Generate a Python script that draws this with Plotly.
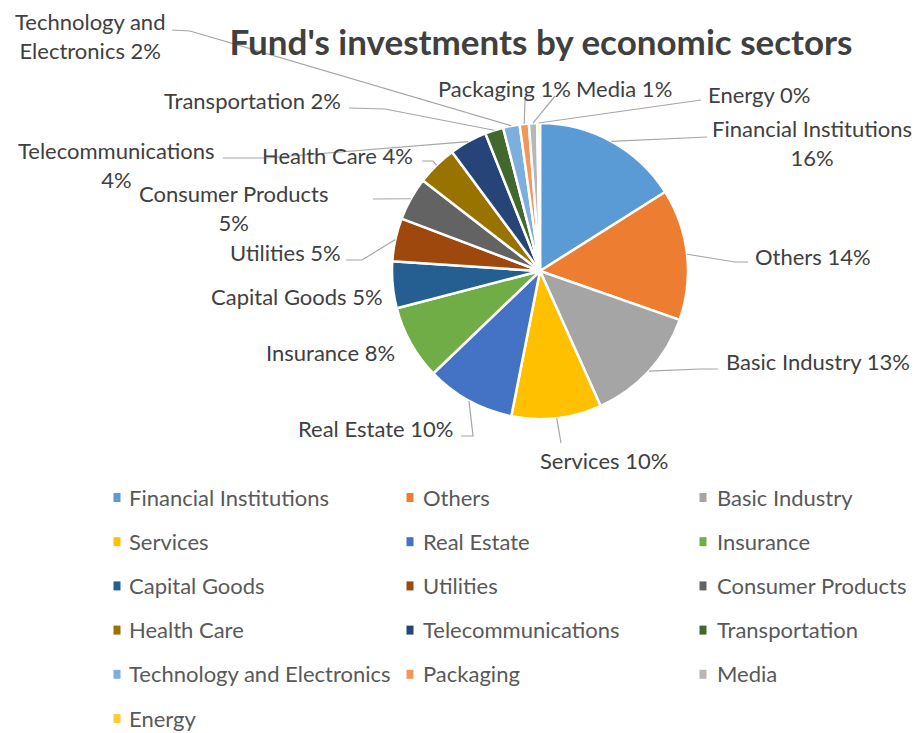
import math
import plotly.graph_objects as go

# ---- data ----
sectors = [
    "Financial Institutions", "Others", "Basic Industry", "Services",
    "Real Estate", "Insurance", "Capital Goods", "Utilities",
    "Consumer Products", "Health Care", "Telecommunications",
    "Transportation", "Technology and Electronics", "Packaging",
    "Media", "Energy",
]
shares = [16.0, 14.3, 12.9, 9.8, 9.7, 8.1, 5.1, 4.7, 4.7, 4.4, 4.1,
          2.0, 1.8, 1.0, 0.9, 0.3]
colors = [
    "#5B9BD5", "#ED7D31", "#A5A5A5", "#FFC000", "#4472C4", "#70AD47",
    "#255E91", "#9E480E", "#636363", "#997300", "#264478", "#43682B",
    "#7CAFDD", "#F1975A", "#B7B7B7", "#FFCD33",
]
title_text = "Fund's investments by economic sectors"

# ---- layout (pixels) ----
W, H = 915, 733
CX, CY, R = 540, 271, 148
FONT = "Lato"
TEXT_COLOR = "#404040"
LEADER_COLOR = "#A6A6A6"
LABEL_SIZE = 22


def px(x):
    return x / W


def py(y):
    return 1 - y / H


# label placement: center/edge point, anchor, word split for 2-line labels,
# and the leader path points starting near the text (None = no leader)
label_layout = {
    "Financial Institutions": dict(at=(812, 143), xa="center", split=2, lead=[(707, 137)]),
    "Others": dict(at=(753, 256), xa="left", lead=[(748, 262), (735, 262)]),
    "Basic Industry": dict(at=(724, 362), xa="left", lead=[(718, 369), (700, 369)]),
    "Services": dict(at=(604, 460), xa="center", lead=[(561, 443)]),
    "Real Estate": dict(at=(455, 429), xa="right", lead=[(461, 436), (473, 436)]),
    "Insurance": dict(at=(397, 352), xa="right", lead=None),
    "Capital Goods": dict(at=(385, 296), xa="right", lead=None),
    "Utilities": dict(at=(343, 253), xa="right", lead=[(346, 260), (362, 260)]),
    "Consumer Products": dict(at=(234, 208), xa="center", split=2, lead=[(373, 199)]),
    "Health Care": dict(at=(415, 156), xa="right", lead=[(422, 161), (433, 161)]),
    "Telecommunications": dict(at=(116, 165), xa="center", split=1, lead=[(223, 158), (266, 158)]),
    "Transportation": dict(at=(343, 100), xa="right", lead=[(349, 108), (385, 109)]),
    "Technology and Electronics": dict(at=(90, 36), xa="center", split=2, lead=[(172, 30), (190, 31)]),
    "Packaging": dict(at=(505, 88), xa="center", lead=[(525, 100)]),
    "Media": dict(at=(574, 88), xa="left", lead=[(555, 96)]),
    "Energy": dict(at=(706, 94), xa="left", lead=[(701, 100)]),
}

fig = go.Figure()
fig.add_trace(go.Pie(
    labels=sectors,
    values=shares,
    sort=False,
    direction="clockwise",
    rotation=0,
    marker=dict(colors=colors, line=dict(color="white", width=2.5)),
    textinfo="none",
    showlegend=False,
    domain=dict(x=[px(CX - R), px(CX + R)], y=[py(CY + R), py(CY - R)]),
))

total = sum(shares)
annotations = []
shapes = []
cum = 0.0
for name, val in zip(sectors, shares):
    frac = val / total
    mid = (cum + frac / 2) * 2 * math.pi
    cum += frac
    edge = (CX + R * math.sin(mid), CY - R * math.cos(mid))
    spec = label_layout[name]
    text = f"{name} {round(frac * 100)}%"
    if spec.get("split"):
        words = text.split(" ")
        k = spec["split"]
        text = " ".join(words[:k]) + "<br>" + " ".join(words[k:])
    annotations.append(dict(
        x=px(spec["at"][0]), y=py(spec["at"][1]), xref="paper", yref="paper",
        text=text, showarrow=False, xanchor=spec["xa"], yanchor="middle",
        align="center", font=dict(family=FONT, size=LABEL_SIZE, color=TEXT_COLOR),
    ))
    if spec["lead"]:
        pts = spec["lead"] + [edge]
        path = "M " + " L ".join(f"{px(x):.5f},{py(y):.5f}" for x, y in pts)
        shapes.append(dict(type="path", path=path, xref="paper", yref="paper",
                           line=dict(color=LEADER_COLOR, width=1.2), layer="above"))

# legend: three columns of small colour keys
col_marker_x = [117, 410, 703]
col_text_x = [127, 421, 715]
row_y0, row_dy = 497, 44.2
for i, (name, color) in enumerate(zip(sectors, colors)):
    r, c = divmod(i, 3)
    yc = row_y0 + r * row_dy
    mx = col_marker_x[c]
    shapes.append(dict(type="rect", xref="paper", yref="paper",
                       x0=px(mx - 3.5), x1=px(mx + 3.5), y0=py(yc + 5), y1=py(yc - 4),
                       fillcolor=color, line=dict(width=0)))
    annotations.append(dict(
        x=px(col_text_x[c]), y=py(yc), xref="paper", yref="paper", text=name,
        showarrow=False, xanchor="left", yanchor="middle",
        font=dict(family=FONT, size=LABEL_SIZE, color="#595959"),
    ))

fig.update_layout(
    width=W, height=H,
    margin=dict(l=0, r=0, t=0, b=0),
    paper_bgcolor="white", plot_bgcolor="white",
    title=dict(text=f"<b>{title_text}</b>", x=px(541), y=py(43),
               xanchor="center", yanchor="middle",
               font=dict(family=FONT, size=35, color=TEXT_COLOR)),
    annotations=annotations,
    shapes=shapes,
)

fig.write_html("out.html")
